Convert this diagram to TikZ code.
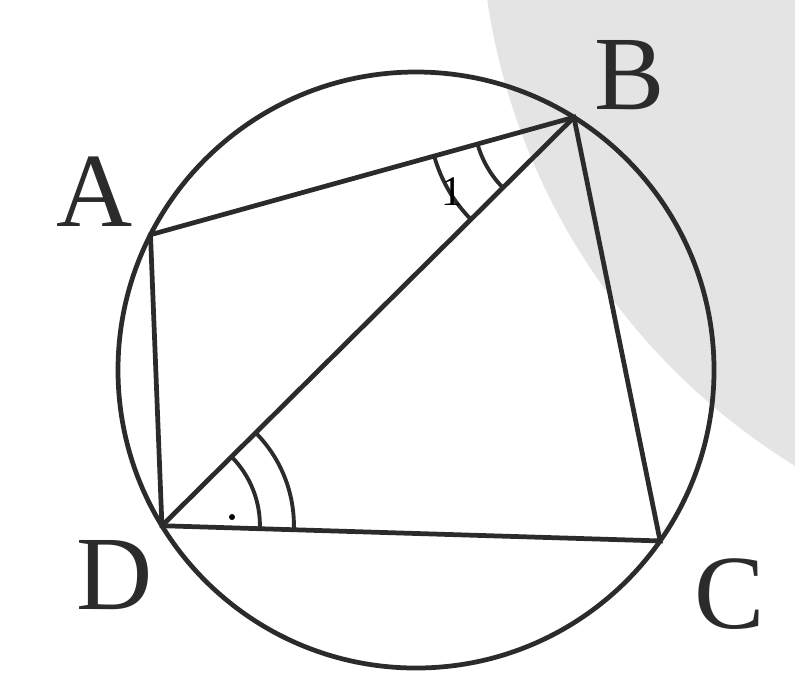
\documentclass[tikz,border=0pt]{standalone}
\usepackage{fontspec}
\setmainfont{Liberation Serif}
\usepackage{tikz}
\usetikzlibrary{positioning,calc}
\definecolor{cInk}{HTML}{2B2B2B}
\definecolor{cShade}{HTML}{E4E4E4}
\tikzset{
  seg/.style={draw=cInk, line width=1.35pt},
  rim/.style={draw=cInk, line width=1.35pt},
  amark/.style={draw=cInk, line width=1.1pt},
  ptlbl/.style={inner sep=0pt, text=cInk, font=\fontsize{30}{30}\selectfont},
  numlbl/.style={inner sep=0pt, text=black, font=\fontsize{12}{12}\selectfont},
}

\begin{document}
\begin{tikzpicture}
    \useasboundingbox (0,0) rectangle (7.95,6.74);
    % shaded disc in the corner
    \begin{scope}
      \clip (0,0) rectangle (7.95,6.74);
      \fill[cShade] (11.42,7.72) circle (6.62);
    \end{scope}
    \coordinate (O) at (4.16,3.04);
    \coordinate (A) at ($(O)+(153:2.98)$);
    \coordinate (B) at ($(O)+(58:2.98)$);
    \coordinate (C) at ($(O)+(-35:2.98)$);
    \coordinate (D) at ($(O)+(211.5:2.98)$);
    \draw[rim] (O) circle (2.98);
    \draw[seg] (A) -- (B) -- (C) -- (D) -- cycle;
    \draw[seg] (B) -- (D);
    % equal angles
    \draw[amark] (B) ++(195.5:1.0) arc[start angle=195.5, end angle=224.7, radius=1.0];
    \draw[amark] (B) ++(195.5:1.45) arc[start angle=195.5, end angle=224.7, radius=1.45];
    \draw[amark] (D) ++(44.7:0.98) arc[start angle=44.7, end angle=-1.75, radius=0.98];
    \draw[amark] (D) ++(44.7:1.32) arc[start angle=44.7, end angle=-1.75, radius=1.32];
    \node[numlbl] (n1) at (4.52,4.82) {1};
    \fill[black] (2.32,1.57) circle (0.03);
    \node[ptlbl] (lA) at (0.95,4.82) {A};
    \node[ptlbl] (lB) at (6.30,5.99) {B};
    \node[ptlbl] (lC) at (7.30,0.80) {C};
    \node[ptlbl] (lD) at (1.15,0.99) {D};
  \end{tikzpicture}
\end{document}
